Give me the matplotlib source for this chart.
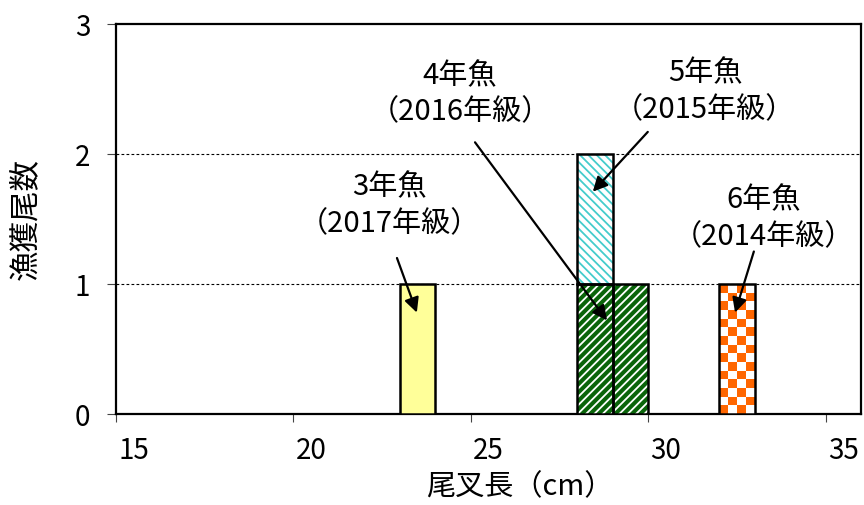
import numpy as np
import matplotlib
matplotlib.use("Agg")
import matplotlib.pyplot as plt
from matplotlib.colors import ListedColormap

plt.rcParams['font.family'] = ['Noto Sans CJK JP', 'DejaVu Sans']
plt.rcParams['hatch.linewidth'] = 1.3

# ---- data ----
lengths = list(range(15, 36))                     # 尾叉長 (cm) class lower bounds
age3_2017 = [0]*8 + [1] + [0]*12                  # 23 cm
age4_2016 = [0]*13 + [1, 1] + [0]*6               # 28, 29 cm
age5_2015 = [0]*13 + [1] + [0]*7                  # 28 cm (stacked)
age6_2014 = [0]*17 + [1] + [0]*3                  # 32 cm
xtick_labels = ['15', '20', '25', '30', '35']
ytick_values = [0, 1, 2, 3]

labels = {
    '3': "3年魚\n（2017年級）",
    '4': "4年魚\n（2016年級）",
    '5': "5年魚\n（2015年級）",
    '6': "6年魚\n（2014年級）",
}

W, H = 864, 505
fig = plt.figure(figsize=(W/100, H/100), dpi=100)
ax = fig.add_axes([116/W, 1-414/H, 745/W, 390/H])

x = np.array(lengths, dtype=float)
a3 = np.array(age3_2017, float)
a4 = np.array(age4_2016, float)
a5 = np.array(age5_2015, float)
a6 = np.array(age6_2014, float)

def nz(v):
    return v > 0

lw = 1.8
# age 3: yellow
m = nz(a3)
ax.bar(x[m], a3[m], width=1, align='edge', color='#FFFF99', edgecolor='black', linewidth=lw, zorder=3)

# age 4: dark green with white diagonal stripes
m = nz(a4)
ax.bar(x[m], a4[m], width=1, align='edge', color='#0A640A', edgecolor='white', hatch='////', linewidth=0, zorder=3)
ax.bar(x[m], a4[m], width=1, align='edge', fill=False, edgecolor='black', linewidth=lw, zorder=4)

# age 5: white with cyan stripes, stacked on age 4
m = nz(a5)
ax.bar(x[m], a5[m], width=1, align='edge', bottom=a4[m], color='white', edgecolor='#44CCCC', hatch='\\\\\\\\', linewidth=0, zorder=3)
ax.bar(x[m], a5[m], width=1, align='edge', bottom=a4[m], fill=False, edgecolor='black', linewidth=lw, zorder=4)

# age 6: orange checkerboard
m = nz(a6)
bars6 = ax.bar(x[m], a6[m], width=1, align='edge', color='white', edgecolor='none', linewidth=0, zorder=3)
cmap = ListedColormap(['#FF6600', 'white'])
for b in bars6:
    nrows = int(round(15 * b.get_height()))
    ncols = 4
    checker = (np.add.outer(np.arange(nrows), np.arange(ncols)) % 2).astype(float)
    im = ax.imshow(checker, cmap=cmap, extent=(b.get_x(), b.get_x()+b.get_width(), b.get_y(), b.get_y()+b.get_height()),
                   aspect='auto', interpolation='nearest', origin='lower', zorder=3.5)
    im.set_clip_path(b)
ax.bar(x[m], a6[m], width=1, align='edge', fill=False, edgecolor='black', linewidth=lw, zorder=4)

ax.set_xlim(lengths[0], lengths[-1] + 1)
ax.set_ylim(0, 3)

# axes styling
for s in ax.spines.values():
    s.set_linewidth(1.6)
    s.set_color('black')

major_x = [int(t) for t in xtick_labels]
ax.set_xticks(major_x)
ax.set_xticklabels([])
ax.set_xticks([v + 0.5 for v in major_x], minor=True)
ax.set_xticklabels(xtick_labels, minor=True, fontsize=20)
ax.tick_params(axis='x', which='major', direction='out', length=6, width=0.8, color='#444444')
ax.tick_params(axis='x', which='minor', length=0, pad=16)

ax.set_yticks(ytick_values)
ax.set_yticklabels([str(v) for v in ytick_values], fontsize=20)
ax.tick_params(axis='y', direction='out', length=6.5, width=0.8, color='#444444', pad=12)

for yv in ytick_values[1:-1]:
    ax.axhline(yv, color='black', linewidth=0.8, linestyle=(0, (2.5, 2)), zorder=1)

fig.text(520/W, 1-487/H, '尾叉長（cm）', ha='center', va='center', fontsize=21)
fig.text(25/W, 1-219/H, '漁獲尾数', ha='center', va='center', rotation=90, fontsize=22)

arrow = dict(arrowstyle='-|>', color='black', lw=1.6, mutation_scale=22, shrinkA=0, shrinkB=0)
ann_kw = dict(ha='center', va='center', fontsize=21, multialignment='center', linespacing=1.3)

ax.annotate('', xy=(23.48, 0.78), xytext=(22.92, 1.20), arrowprops=arrow, zorder=6)
ax.text(22.72, 1.60, labels['3'], **ann_kw)

ax.annotate('', xy=(28.84, 0.72), xytext=(25.12, 2.09), arrowprops=arrow, zorder=6)
ax.text(24.70, 2.46, labels['4'], **ann_kw)

ax.annotate('', xy=(28.44, 1.71), xytext=(29.99, 2.17), arrowprops=arrow, zorder=6)
ax.text(31.60, 2.48, labels['5'], **ann_kw)

ax.annotate('', xy=(32.45, 0.78), xytext=(32.98, 1.25), arrowprops=arrow, zorder=6)
ax.text(33.24, 1.50, labels['6'], **ann_kw)

fig.savefig('out.png', dpi=100)
